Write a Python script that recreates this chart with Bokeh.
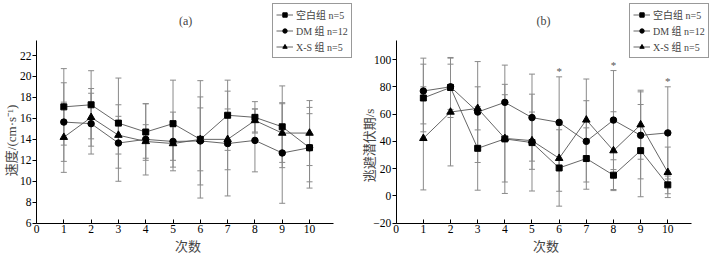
from bokeh.plotting import figure
from bokeh.models import (ColumnDataSource, Whisker, TeeHead, Legend, LegendItem,
                          Label, Range1d, FixedTicker)
from bokeh.layouts import row
from bokeh.embed import file_html
from bokeh.resources import INLINE
from bokeh.core.properties import value

# ---------------- data ----------------
trials = [1, 2, 3, 4, 5, 6, 7, 8, 9, 10]
group_names = ["空白组 n=5", "DM 组 n=12", "X-S 组 n=5"]

# (a) speed, cm/s
blank_a = [17.1, 17.3, 15.55, 14.7, 15.5, 14.0, 16.3, 16.1, 15.2, 13.2]
blank_a_err = [3.65, 3.25, 4.3, 2.7, 4.15, 5.6, 3.35, 1.5, 3.9, 3.25]
dm_a = [15.65, 15.5, 13.65, 14.0, 13.8, 13.85, 13.6, 13.9, 12.7, 13.2]
dm_a_err = [3.75, 2.9, 3.65, 3.4, 2.8, 4.2, 5.0, 3.0, 4.8, 3.85]
xs_a = [14.2, 16.1, 14.4, 13.8, 13.6, 14.0, 14.0, 15.8, 14.6, 14.6]
xs_a_err = [3.35, 2.75, 1.8, 1.6, 1.6, 3.0, 2.9, 1.1, 2.8, 3.1]

# (b) escape latency, s
blank_b = [71.8, 79.5, 34.9, 41.8, 39.1, 20.5, 27.4, 15.2, 33.2, 8.1]
blank_b_err = [24.8, 22.0, 30.7, 40.0, 35.5, 28.0, 22.5, 11.3, 33.8, 6.5]
dm_b = [76.9, 80.0, 61.5, 68.6, 57.4, 53.9, 40.0, 55.6, 44.4, 46.2]
dm_b_err = [24.1, 16.6, 37.0, 27.3, 31.9, 33.4, 29.8, 36.3, 31.9, 33.8]
xs_b = [42.2, 61.5, 64.2, 42.2, 40.5, 27.6, 55.7, 33.2, 52.2, 17.3]
xs_b_err = [37.8, 39.5, 15.8, 32.0, 21.0, 24.2, 30.0, 28.5, 25.3, 18.5]

sig_trials = [6, 8, 10]

x_ticks = [0, 1, 2, 3, 4, 5, 6, 7, 8, 9, 10]
y_ticks_a = [6, 8, 10, 12, 14, 16, 18, 20, 22]
y_ticks_b = [-20, 0, 20, 40, 60, 80, 100]

SERIF = "'Liberation Serif', 'Noto Sans CJK SC'"
CJK = "'Noto Sans CJK SC'"
markers = ["square", "circle", "triangle"]
msizes = [6, 6.5, 7.5]
W, H = 359, 257


def make_panel(series, errs, x_view, y_view, x_axis_end, y_axis, y_ticks,
               title, ylabel, ylabel_pos, title_pos, xlabel_pos, legend_loc):
    p = figure(width=W, height=H, output_backend="svg", toolbar_location=None,
               x_range=Range1d(*x_view), y_range=Range1d(*y_view),
               min_border=0)
    p.outline_line_color = None
    p.xgrid.grid_line_color = None
    p.ygrid.grid_line_color = None
    p.background_fill_color = "white"
    p.border_fill_color = "white"

    xa, ya = p.xaxis[0], p.yaxis[0]
    for ax in (xa, ya):
        ax.axis_line_color = "black"
        ax.axis_line_width = 1
        ax.major_tick_line_color = "black"
        ax.minor_tick_line_color = None
        ax.major_label_text_font = SERIF
        ax.major_label_text_font_size = "11.5px"
        ax.major_label_text_color = "black"
    xa.fixed_location = y_axis[0]
    xa.bounds = (0, x_axis_end)
    xa.ticker = FixedTicker(ticks=x_ticks)
    xa.major_tick_in = 4
    xa.major_tick_out = 0
    xa.major_label_standoff = 2
    ya.fixed_location = 0
    ya.bounds = y_axis
    ya.ticker = FixedTicker(ticks=y_ticks)
    ya.major_tick_in = 0
    ya.major_tick_out = 4
    ya.major_label_standoff = 1
    ya.major_label_overrides = {t: ("−" + str(-t)) for t in y_ticks if t < 0}

    items = []
    for ys, es, mk, ms, name in zip(series, errs, markers, msizes, group_names):
        src = ColumnDataSource(dict(
            x=trials, y=ys,
            upper=[a + b for a, b in zip(ys, es)],
            lower=[a - b for a, b in zip(ys, es)]))
        w = Whisker(base="x", upper="upper", lower="lower", source=src,
                    line_color="#8a8a8a", line_width=1,
                    upper_head=TeeHead(size=6, line_color="#8a8a8a", line_width=1),
                    lower_head=TeeHead(size=6, line_color="#8a8a8a", line_width=1),
                    level="underlay")
        p.add_layout(w)
        lr = p.line("x", "y", source=src, line_color="#555555", line_width=0.9)
        sr = p.scatter("x", "y", source=src, marker=mk, size=ms,
                       fill_color="black", line_color="black")
        items.append(LegendItem(label=name, renderers=[lr, sr]))

    leg = Legend(items=items, location=legend_loc, orientation="vertical",
                 label_text_font=SERIF, label_text_font_size="10px",
                 label_height=11, glyph_height=11, glyph_width=17,
                 label_standoff=3, spacing=1, padding=3, margin=0,
                 border_line_color="#333333", border_line_width=1,
                 background_fill_color="white", background_fill_alpha=1)
    p.add_layout(leg, "center")

    p.add_layout(Label(x=title_pos[0], y=title_pos[1], text=title,
                       text_font=SERIF, text_font_size="12px",
                       text_align="center", text_baseline="middle"))
    p.add_layout(Label(x=xlabel_pos[0], y=xlabel_pos[1], text="次数",
                       text_font=CJK, text_font_size="13px",
                       text_align="center", text_baseline="middle"))
    p.add_layout(Label(x=ylabel_pos[0], y=ylabel_pos[1], text=ylabel,
                       text_font=SERIF, text_font_size="13px",
                       angle=1.5707963, text_align="center", text_baseline="middle"))
    return p


# panel (a): 27.3 px per trial, 10.48 px per cm/s
pa = make_panel([blank_a, dm_a, xs_a], [blank_a_err, dm_a_err, xs_a_err],
                (-1.319, 11.83), (2.727, 27.25), 10.88, (6, 23.46), y_ticks_a,
                "(a)", "速度/(cm·s⁻¹)", (-0.93, 13.9), (5.46, 25.34), (5.55, 3.9),
                (272, 199))

# panel (b): 27.16 px per trial, 1.364 px per second
pb = make_panel([blank_b, dm_b, xs_b], [blank_b_err, dm_b_err, xs_b_err],
                (-1.351, 11.867), (-45.15, 143.27), 10.88, (-20, 114.2), y_ticks_b,
                "(b)", "逃避潜伏期/s", (-1.0, 37.0), (5.42, 128.6), (5.52, -36.3),
                (270, 199))

# significance asterisks above the highest error bar
tops = []
for t in sig_trials:
    i = trials.index(t)
    tops.append(max(blank_b[i] + blank_b_err[i], dm_b[i] + dm_b_err[i],
                    xs_b[i] + xs_b_err[i]))
pb.text(x=sig_trials, y=tops, text=["*"] * len(sig_trials),
        text_font=value(SERIF), text_font_size="11px", text_color="#555555",
        text_align="center", text_baseline="bottom", y_offset=0)

layout = row(pa, pb, spacing=0)
open("out.html", "w").write(file_html(layout, INLINE))
